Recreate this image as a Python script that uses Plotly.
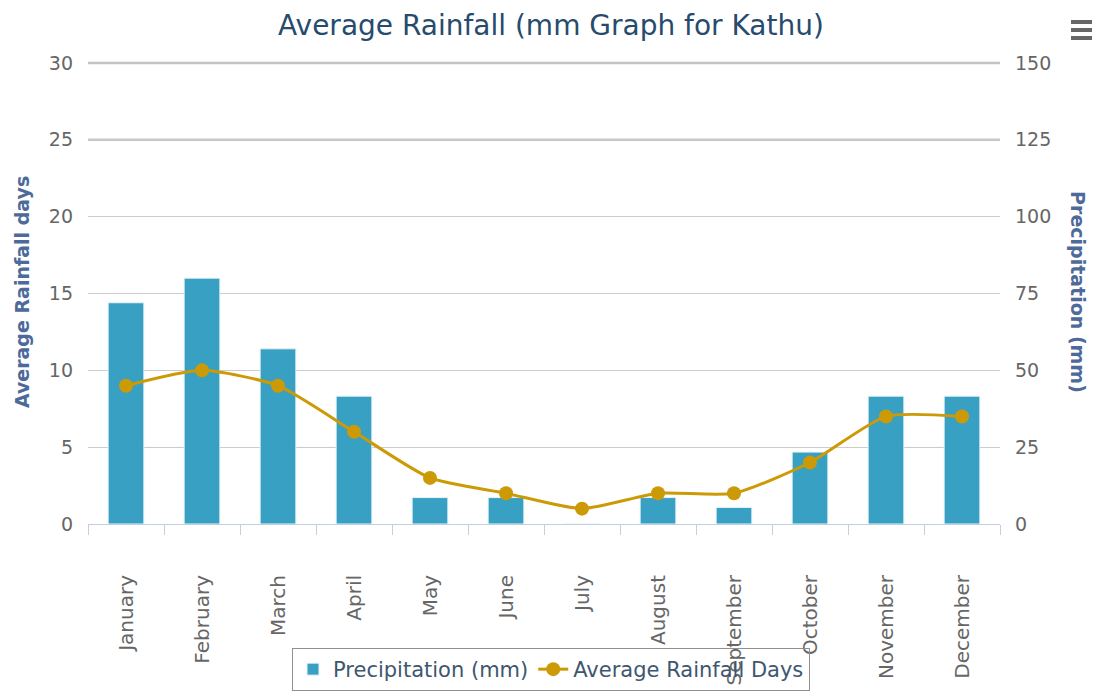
import plotly.graph_objects as go

months = ["January", "February", "March", "April", "May", "June", "July",
          "August", "September", "October", "November", "December"]
precip_mm = [72, 80, 57, 41.6, 8.6, 8.6, 0, 8.6, 5.4, 23.4, 41.6, 41.6]
rain_days = [9, 10, 9, 6, 3, 2, 1, 2, 2, 4, 7, 7]

FONT = "DejaVu Sans"
BAR_COLOR = "#38a0c2"
LINE_COLOR = "#cc9a06"
AXIS_TITLE_COLOR = "#4d6a9a"
LABEL_COLOR = "#666666"

W, H = 1092, 691          # page body adds an 8px margin
L, R, T, B = 80, 100, 55, 175
PW, PH = W - L - R, H - T - B

fig = go.Figure()
fig.add_trace(go.Bar(
    x=months, y=precip_mm, name="Precipitation (mm)", yaxis="y",
    marker=dict(color=BAR_COLOR, line=dict(color="#e8f4f8", width=1)),
))
fig.add_trace(go.Scatter(
    x=months, y=rain_days, name="Average Rainfall Days", yaxis="y2",
    mode="lines+markers",
    line=dict(color=LINE_COLOR, width=3, shape="spline", smoothing=0.6),
    marker=dict(color=LINE_COLOR, size=14),
))

fig.update_layout(
    width=W, height=H,
    paper_bgcolor="white", plot_bgcolor="white",
    font=dict(family=FONT, color=LABEL_COLOR, size=15),
    margin=dict(l=L, r=R, t=T, b=B, autoexpand=False),
    bargap=0.53,
    title=dict(text="Average Rainfall (mm Graph for Kathu)", x=543 / W, xref="container",
               xanchor="center", y=1 - 17 / H, yref="container", yanchor="middle",
               font=dict(family=FONT, size=28, color="#274b6d")),
    xaxis=dict(
        showgrid=False, showline=True, linecolor="#c0d0e0", linewidth=1,
        ticks="outside", tickson="boundaries", ticklen=10, tickcolor="#c0d0e0",
        tickangle=-90, ticklabelstandoff=42,
        tickfont=dict(size=20, color=LABEL_COLOR, family=FONT),
        range=[-0.5, 11.5], fixedrange=True,
    ),
    yaxis=dict(
        range=[0, 150], dtick=25, side="right", showgrid=False,
        zeroline=False, showline=False, ticks="", ticklabelstandoff=14,
        tickfont=dict(size=19, color=LABEL_COLOR, family=FONT),
    ),
    yaxis2=dict(
        range=[0, 30], dtick=5, overlaying="y", side="left",
        showgrid=True, gridcolor="#cccccc", gridwidth=1,
        zeroline=False, showline=False, ticks="", ticklabelstandoff=14,
        tickfont=dict(size=19, color=LABEL_COLOR, family=FONT),
    ),
    showlegend=True,
    legend=dict(
        orientation="h", xref="container", yref="container",
        x=543 / W, xanchor="center", y=1 - 640 / H, yanchor="top",
        bordercolor="#909090", borderwidth=1, bgcolor="rgba(0,0,0,0)",
        font=dict(size=21, color="#3e576f", family=FONT),
        itemwidth=30, traceorder="normal",
    ),
    annotations=[
        dict(text="<b>Average Rainfall days</b>", xref="paper", yref="paper",
             x=(14 - L) / PW, y=0.503, xanchor="center", yanchor="middle", textangle=-90,
             showarrow=False, font=dict(size=19, color=AXIS_TITLE_COLOR, family=FONT)),
        dict(text="<b>Precipitation (mm)</b>", xref="paper", yref="paper",
             x=(1070 - L) / PW, y=0.503, xanchor="center", yanchor="middle", textangle=90,
             showarrow=False, font=dict(size=19, color=AXIS_TITLE_COLOR, family=FONT)),
    ],
)

# Heavier top gridlines (as in the reference)
for frac in [1.0, 25 / 30]:
    fig.add_shape(type="line", xref="paper", yref="paper", x0=0, x1=1, y0=frac, y1=frac,
                  line=dict(color="#c4c4c4", width=2.5), layer="below")

# Export menu (hamburger) icon
for yy in [14, 22, 30]:
    fig.add_shape(type="line", xref="paper", yref="paper",
                  x0=(1063 - L) / PW, x1=(1090 - L) / PW,
                  y0=(H - B - yy) / PH, y1=(H - B - yy) / PH,
                  line=dict(color="#666666", width=4))

fig.write_html("out.html")
